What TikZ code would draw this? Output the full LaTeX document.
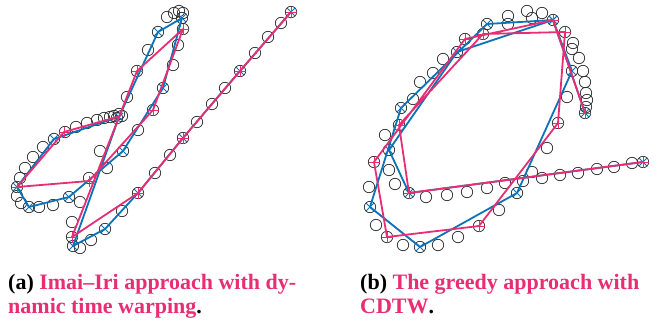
\documentclass[tikz,border=0pt]{standalone}
\usepackage{fontspec}
\setmainfont{Liberation Serif}
\definecolor{pinkc}{RGB}{232,45,115}
\definecolor{bluec}{RGB}{10,115,185}
\definecolor{ringc}{RGB}{45,45,45}
\tikzset{
  ring/.style={draw=ringc, line width=0.75pt},
  bpath/.style={draw=bluec, line width=1.8pt, line join=round, line cap=round},
  ppath/.style={draw=pinkc, line width=1.8pt, line join=round, line cap=round},
  pplus/.pic={\draw[pinkc, line width=0.8pt] (-5.5,0) -- (5.5,0) (0,-5.5) -- (0,5.5);},
  bcross/.pic={\draw[bluec, line width=0.8pt] (-4,-4) -- (4,4) (-4,4) -- (4,-4);},
  captext/.style={anchor=base west, inner sep=0pt, font=\bfseries\fontsize{22}{26}\selectfont},
}
\begin{document}
\begin{tikzpicture}[x=1pt, y=-1pt]
\useasboundingbox (0,0) rectangle (657,322);
% ---------- (a) trajectory points ----------
\foreach \p in {(291,12),(281,23),(268,37),(255,53),(240,71),(225,88),(212,104),(197,122),(183,138),(170,155),(155,173),(138,193),(122,211),(105,229),(91,240),(80,248),(73,246),
 (72,237),(72,222),(80,202),(89,178),(100,151),
 (158,32),(148,50),(137,71),(127,97),
 (167,17),(174,13),(179,11),(183,13),(182,18),(183,29),
 (178,45),(173,65),(163,88),(153,110),(138,130),(123,151),(107,168),
 (122,116),(119,114),(117,118),(114,116),(110,117),(104,118),(97,120),(87,123),(76,127),(65,132),(54,139),(43,147),(33,157),(25,168),(20,178),(17,187),(17,196),(21,203),(29,207),(39,207),(53,205),(69,197)}
  \draw[ring] \p circle[radius=5.7];
% (a) blue vertices
\coordinate (ab1) at (118,117);
\coordinate (ab2) at (54,139);
\coordinate (ab3) at (17,187);
\coordinate (ab4) at (29,207);
\coordinate (ab5) at (69,197);
\coordinate (ab6) at (123,151);
\coordinate (ab7) at (163,88);
\coordinate (ab8) at (182,18);
\coordinate (ab9) at (158,32);
\coordinate (ab10) at (119,117);
\coordinate (ab11) at (73,246);
\coordinate (ab12) at (105,229);
\coordinate (ab13) at (138,193);
\coordinate (ab14) at (183,138);
\coordinate (ab15) at (240,71);
\coordinate (ab16) at (291,12);
% (a) pink vertices
\coordinate (ap1) at (117,117);
\coordinate (ap2) at (64,132);
\coordinate (ap3) at (17,187);
\coordinate (ap4) at (89,181);
\coordinate (ap5) at (153,110);
\coordinate (ap6) at (183,29);
\coordinate (ap7) at (137,71);
\coordinate (ap8) at (72,237);
\coordinate (ap9) at (138,193);
\coordinate (ap10) at (183,138);
\coordinate (ap11) at (240,71);
\coordinate (ap12) at (291,12);
\draw[bpath] (ab1) -- (ab2) -- (ab3) -- (ab4) -- (ab5) -- (ab6) -- (ab7) -- (ab8) -- (ab9) -- (ab10) -- (ab11) -- (ab12) -- (ab13) -- (ab14) -- (ab15) -- (ab16);
\foreach \n in {2,...,16} {\pic at (ab\n) {bcross};}
\draw[ppath] (ap1) -- (ap2) -- (ap3) -- (ap4) -- (ap5) -- (ap6) -- (ap7) -- (ap8) -- (ap9) -- (ap10) -- (ap11) -- (ap12);
\foreach \n in {2,...,12} {\pic at (ap\n) {pplus};}
% ---------- (b) trajectory points ----------
\foreach \p in {(585,113),(586,107),(587,100),(586,93),(585,82),(583,71),(579,58),(573,43),(572,49),(565,32),(553,20),(542,13),(532,18),(527,11),(508,16),(508,24),(487,24),(483,34),(465,39),(457,52),(443,59),(433,73),(420,82),(413,99),(401,108),(399,125),(385,135),(389,150),(374,162),(389,170),(369,187),(395,184),(409,193),(370,207),(376,225),(387,237),(403,245),(420,247),(438,245),(458,237),(479,226),(499,210),(517,193),(532,172),(547,148),(558,123),(567,97),(572,71),
 (426,197),(447,195),(467,192),(487,188),(505,183),(523,181),(542,178),(560,175),(578,173),(597,169),(614,167),(632,163),(643,162)}
  \draw[ring] \p circle[radius=5.7];
\coordinate (bb1) at (585,113);
\coordinate (bb2) at (553,20);
\coordinate (bb3) at (487,24);
\coordinate (bb4) at (401,108);
\coordinate (bb5) at (370,207);
\coordinate (bb6) at (420,247);
\coordinate (bb7) at (517,193);
\coordinate (bb8) at (572,71);
\coordinate (bb9) at (553,20);
\coordinate (bb10) at (457,52);
\coordinate (bb11) at (389,150);
\coordinate (bb12) at (409,193);
\coordinate (bb13) at (643,162);
\coordinate (bp1) at (585,113);
\coordinate (bp2) at (553,20);
\coordinate (bp3) at (465,39);
\coordinate (bp4) at (374,162);
\coordinate (bp5) at (387,237);
\coordinate (bp6) at (479,226);
\coordinate (bp7) at (558,123);
\coordinate (bp8) at (565,32);
\coordinate (bp9) at (483,34);
\coordinate (bp10) at (399,125);
\coordinate (bp11) at (409,193);
\coordinate (bp12) at (643,162);
\draw[bpath] (bb1) -- (bb2) -- (bb3) -- (bb4) -- (bb5) -- (bb6) -- (bb7) -- (bb8) -- (bb9) -- (bb10) -- (bb11) -- (bb12) -- (bb13);
\foreach \n in {1,...,13} {\pic at (bb\n) {bcross};}
\draw[ppath] (bp1) -- (bp2) -- (bp3) -- (bp4) -- (bp5) -- (bp6) -- (bp7) -- (bp8) -- (bp9) -- (bp10) -- (bp11) -- (bp12);
\foreach \n in {1,...,12} {\pic at (bp\n) {pplus};}
% ---------- captions ----------
\node[captext] (capa1) at (8,289) {(a) \textcolor{pinkc}{Imai–Iri approach with dy-}};
\node[captext] (capa2) at (8,313.5) {\textcolor{pinkc}{namic time warping}.};
\node[captext] (capb1) at (360,289) {(b) \textcolor{pinkc}{The greedy approach with}};
\node[captext] (capb2) at (360,313.5) {\textcolor{pinkc}{CDTW}.};
\end{tikzpicture}
\end{document}
